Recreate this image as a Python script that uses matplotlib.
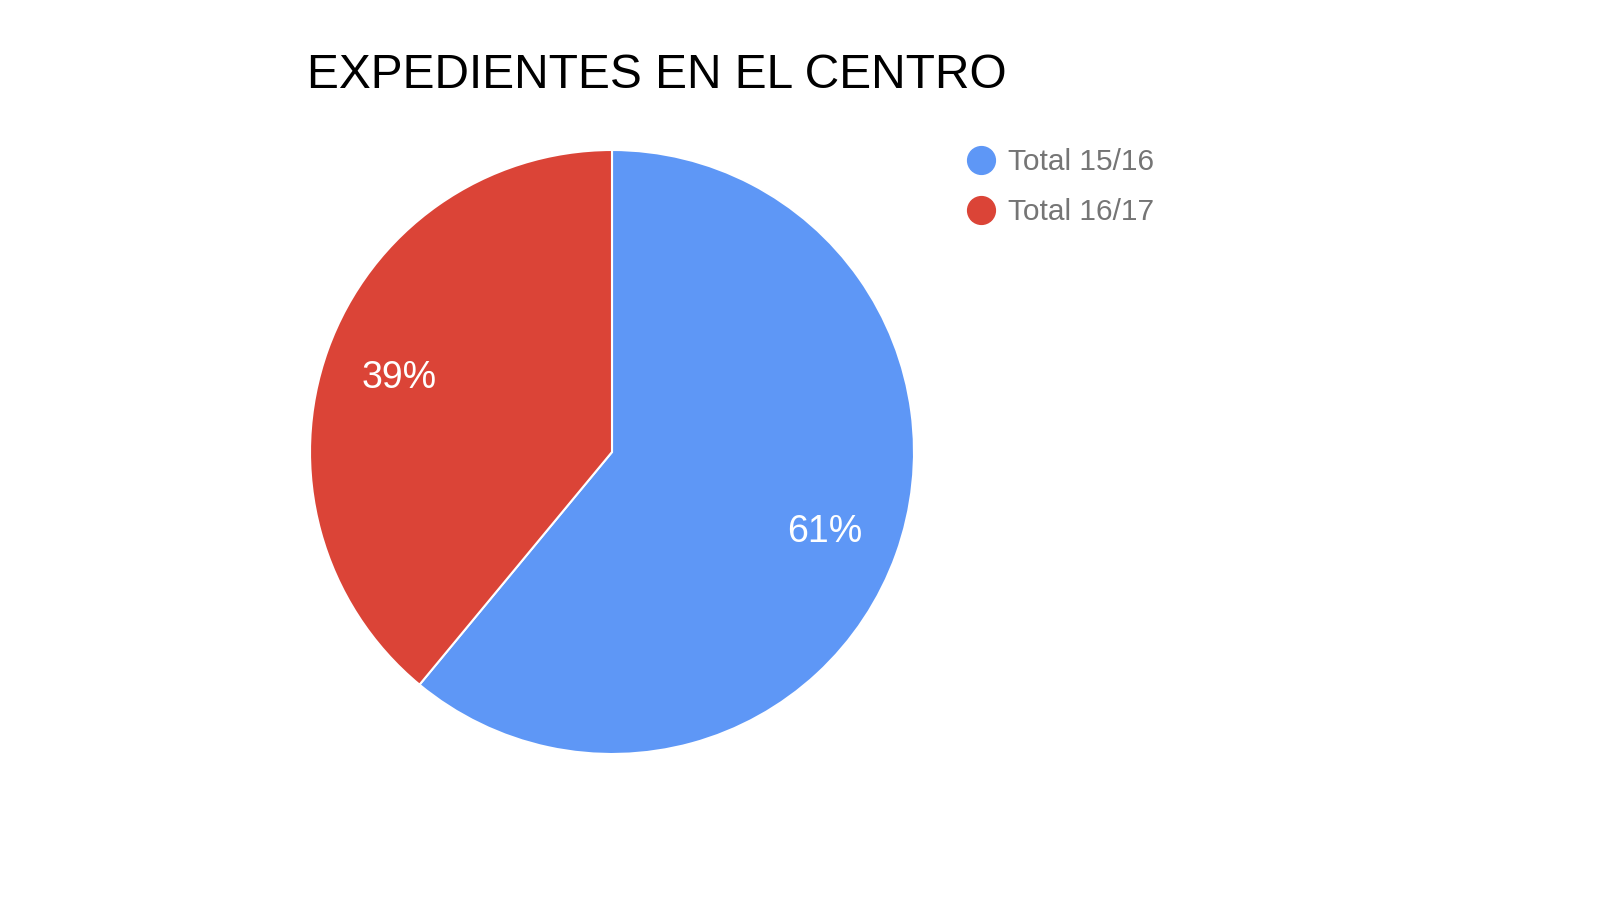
import matplotlib.pyplot as plt
from matplotlib.lines import Line2D

labels = ["Total 15/16", "Total 16/17"]
shares = [61, 39]
colors = ["#5E97F6", "#DB4437"]

plt.rcParams["font.family"] = ["Liberation Sans", "DejaVu Sans"]

fig = plt.figure(figsize=(16, 9), dpi=100)
ax = fig.add_axes([0, 0, 1, 1])

wedges, texts, autotexts = ax.pie(
    shares,
    colors=colors,
    startangle=90,
    counterclock=False,
    center=(612, 448),
    radius=302,
    autopct="%d%%",
    pctdistance=0.75,
    wedgeprops={"edgecolor": "white", "linewidth": 1.5},
    textprops={"color": "white", "fontsize": 27},
    frame=True,
)
# nudge labels slightly down, as in the reference
for t in autotexts:
    x, y = t.get_position()
    t.set_position((x, y - 3))
ax.set_xlim(0, 1600)
ax.set_ylim(0, 900)
ax.set_aspect("equal")
ax.axis("off")

fig.text(307, 900 - 76, "EXPEDIENTES EN EL CENTRO", fontsize=34.5,
         color="#000000", va="center", ha="left", transform=None)

handles = [Line2D([], [], marker="o", linestyle="", markersize=20,
                  markerfacecolor=c, markeredgecolor=c) for c in colors]
leg = fig.legend(handles, labels, loc="upper left",
                 bbox_to_anchor=(965 / 1600, 1 - 148 / 900),
                 frameon=False, fontsize=21.5, labelcolor="#757575",
                 handletextpad=0.35, labelspacing=0.75, borderaxespad=0,
                 borderpad=0, handlelength=1.1)

fig.savefig("out.png", dpi=100)
